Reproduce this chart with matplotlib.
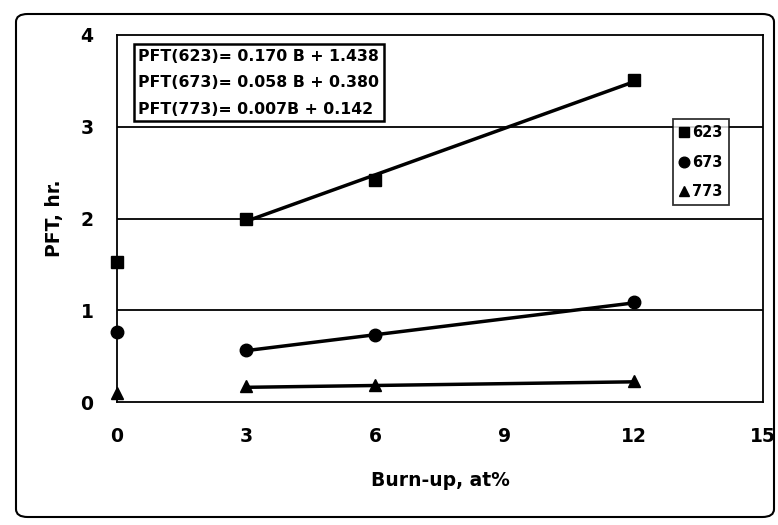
import matplotlib
matplotlib.use('Agg')
import matplotlib.pyplot as plt
from matplotlib.patches import FancyBboxPatch

plt.rcParams['font.family'] = ['DejaVu Sans']
plt.rcParams['font.weight'] = 'bold'

# burn-up (at%) and PFT (hr)
burnup = [0, 3, 6, 12]
pft_623 = [1.53, 2.00, 2.42, 3.51]
pft_673 = [0.76, 0.57, 0.73, 1.09]
pft_773 = [0.10, 0.17, 0.18, 0.23]

# fitted lines, drawn between 3 and 12 at%
fit_x = [3, 12]
fit_623 = [1.97, 3.49]
fit_673 = [0.56, 1.08]
fit_773 = [0.16, 0.22]

eq_lines = ['PFT(623)= 0.170 B + 1.438',
            'PFT(673)= 0.058 B + 0.380',
            'PFT(773)= 0.007B + 0.142']
labels = ['623', '673', '773']

xticks = [0, 3, 6, 9, 12, 15]
yticks = [0, 1, 2, 3, 4]

fig = plt.figure(figsize=(7.78, 5.25), dpi=100)
ax = fig.add_axes([117/778, 1-402/525, 646/778, 367/525])

# outer rounded frame
frame = FancyBboxPatch((16/778, 8/525), 758/778, 503/525,
                       boxstyle='round,pad=0,rounding_size=0.015',
                       transform=fig.transFigure, fill=False,
                       edgecolor='black', linewidth=1.5)
fig.patches.append(frame)

for y in [1, 2, 3]:
    ax.axhline(y, color='black', linewidth=1.3, zorder=1)

ax.plot(fit_x, fit_623, color='black', linewidth=2.5, zorder=2)
ax.plot(fit_x, fit_673, color='black', linewidth=2.5, zorder=2)
ax.plot(fit_x, fit_773, color='black', linewidth=2.5, zorder=2)

ax.plot(burnup, pft_623, 's', color='black', markersize=9, label=labels[0], clip_on=False, zorder=3)
ax.plot(burnup, pft_673, 'o', color='black', markersize=9, label=labels[1], clip_on=False, zorder=3)
ax.plot(burnup, pft_773, '^', color='black', markersize=9, label=labels[2], clip_on=False, zorder=3)

ax.set_xlim(0, 15)
ax.set_ylim(0, 4)
ax.set_xticks(xticks)
ax.set_yticks(yticks)
ax.tick_params(length=0, labelsize=13.5)
ax.tick_params(axis='x', pad=18)
ax.tick_params(axis='y', pad=17)
for lab in ax.get_xticklabels() + ax.get_yticklabels():
    lab.set_fontweight('bold')

for s in ax.spines.values():
    s.set_linewidth(1.3)

ax.set_xlabel('Burn-up, at%', fontsize=13.5, fontweight='bold', labelpad=18)
ax.set_ylabel('PFT, hr.', fontsize=13.5, fontweight='bold', labelpad=12)

ax.text(0.033, 0.962, '\n'.join(eq_lines), transform=ax.transAxes,
        fontsize=11.3, fontweight='bold', va='top', ha='left',
        linespacing=1.95, zorder=5,
        bbox=dict(boxstyle='square,pad=0.3', facecolor='white',
                  edgecolor='black', linewidth=1.8))

leg = ax.legend(loc='upper left', bbox_to_anchor=(0.85, 0.79),
                frameon=True, fancybox=False, edgecolor='black',
                handlelength=0.6, handletextpad=0.3, borderpad=0.4,
                labelspacing=1.0, markerscale=0.85,
                prop={'weight': 'bold', 'size': 10.5})
leg.get_frame().set_linewidth(1.3)

fig.savefig('out.png', dpi=100)
